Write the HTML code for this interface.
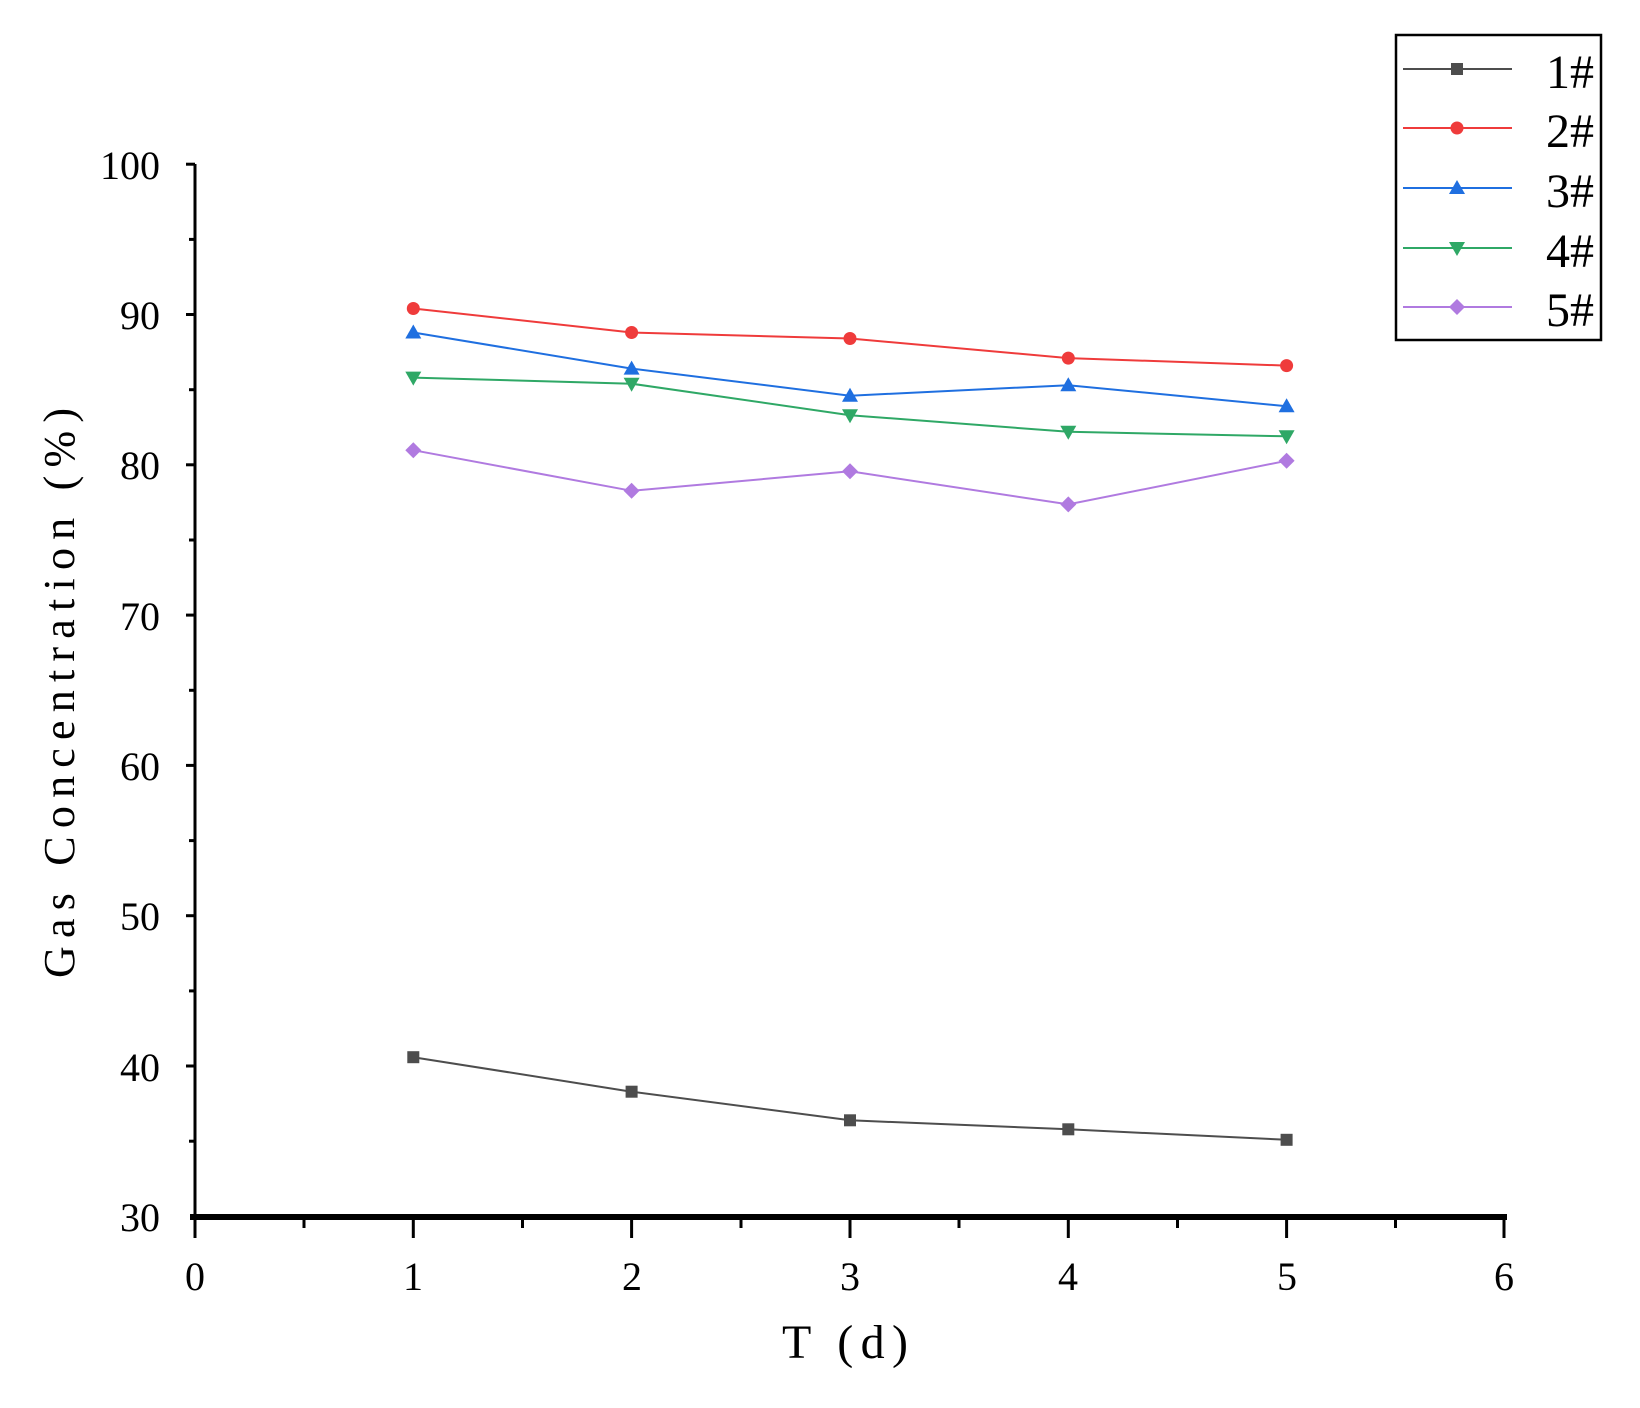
<!DOCTYPE html>
<html><head><style>body{margin:0;background:#fff}</style></head><body>
<svg width="1640" height="1403" xmlns="http://www.w3.org/2000/svg" font-family="Liberation Serif, serif">
<defs>
<g id="sq"><rect x="-6" y="-6" width="12" height="12" fill="#4d4d4d"/></g>
<g id="ci"><circle r="6.5" fill="#ef3b3b"/></g>
<g id="tu"><polygon points="0,-8 8,6 -8,6" fill="#1f6fe0"/></g>
<g id="td"><polygon points="0,8 8,-6 -8,-6" fill="#2fa866"/></g>
<g id="di"><polygon points="0,-8 8,0 0,8 -8,0" fill="#b07ae0"/></g>
</defs>
<line x1="195" y1="164" x2="195" y2="1217" stroke="#000" stroke-width="3"/>
<line x1="190" y1="1217" x2="1507" y2="1217" stroke="#000" stroke-width="6"/>
<g stroke="#000" stroke-width="3">
<line x1="186" y1="164.2" x2="195" y2="164.2"/><line x1="186" y1="314.5" x2="195" y2="314.5"/><line x1="186" y1="464.8" x2="195" y2="464.8"/><line x1="186" y1="615.1" x2="195" y2="615.1"/><line x1="186" y1="765.4" x2="195" y2="765.4"/><line x1="186" y1="915.7" x2="195" y2="915.7"/><line x1="186" y1="1066" x2="195" y2="1066"/>
<line x1="189" y1="239.4" x2="195" y2="239.4"/><line x1="189" y1="389.7" x2="195" y2="389.7"/><line x1="189" y1="540" x2="195" y2="540"/><line x1="189" y1="690.3" x2="195" y2="690.3"/><line x1="189" y1="840.6" x2="195" y2="840.6"/><line x1="189" y1="990.9" x2="195" y2="990.9"/><line x1="189" y1="1141.2" x2="195" y2="1141.2"/>
<line x1="195" y1="1217" x2="195" y2="1238"/><line x1="413.3" y1="1217" x2="413.3" y2="1238"/><line x1="631.6" y1="1217" x2="631.6" y2="1238"/><line x1="850" y1="1217" x2="850" y2="1238"/><line x1="1068.3" y1="1217" x2="1068.3" y2="1238"/><line x1="1286.6" y1="1217" x2="1286.6" y2="1238"/><line x1="1504" y1="1217" x2="1504" y2="1238"/>
<line x1="304" y1="1217" x2="304" y2="1228"/><line x1="522.5" y1="1217" x2="522.5" y2="1228"/><line x1="741" y1="1217" x2="741" y2="1228"/><line x1="959" y1="1217" x2="959" y2="1228"/><line x1="1177.5" y1="1217" x2="1177.5" y2="1228"/><line x1="1395.5" y1="1217" x2="1395.5" y2="1228"/>
</g>
<g font-size="40" text-anchor="end">
<text x="160" y="179">100</text><text x="160" y="329">90</text><text x="160" y="479">80</text><text x="160" y="630">70</text><text x="160" y="780">60</text><text x="160" y="930">50</text><text x="160" y="1081">40</text><text x="160" y="1231">30</text>
</g>
<g font-size="40" text-anchor="middle">
<text x="195" y="1290">0</text><text x="413" y="1290">1</text><text x="632" y="1290">2</text><text x="850" y="1290">3</text><text x="1068" y="1290">4</text><text x="1287" y="1290">5</text><text x="1504" y="1290">6</text>
</g>
<text x="845" y="1358" font-size="48" text-anchor="middle" textLength="126" lengthAdjust="spacing">T (d)</text>
<text transform="translate(74,693) rotate(-90)" font-size="44" text-anchor="middle" textLength="570" lengthAdjust="spacing">Gas Concentration (%)</text>
<g fill="none" stroke-width="2">
<polyline stroke="#4d4d4d" points="413.3,1057.2 631.6,1091.7 850,1120.3 1068.3,1129.3 1286.6,1139.8"/>
<polyline stroke="#ef3b3b" points="413.3,308.5 631.6,332.5 850,338.5 1068.3,358.1 1286.6,365.6"/>
<polyline stroke="#1f6fe0" points="413.3,332.5 631.6,368.6 850,395.7 1068.3,385.2 1286.6,406.2"/>
<polyline stroke="#2fa866" points="413.3,377.6 631.6,383.7 850,415.2 1068.3,431.8 1286.6,436.3"/>
<polyline stroke="#b07ae0" points="413.3,450.2 631.6,490.8 850,471.3 1068.3,504.4 1286.6,460.8"/>
</g>
<use href="#sq" x="413.3" y="1057.2"/><use href="#sq" x="631.6" y="1091.7"/><use href="#sq" x="850" y="1120.3"/><use href="#sq" x="1068.3" y="1129.3"/><use href="#sq" x="1286.6" y="1139.8"/>
<use href="#ci" x="413.3" y="308.5"/><use href="#ci" x="631.6" y="332.5"/><use href="#ci" x="850" y="338.5"/><use href="#ci" x="1068.3" y="358.1"/><use href="#ci" x="1286.6" y="365.6"/>
<use href="#tu" x="413.3" y="332.5"/><use href="#tu" x="631.6" y="368.6"/><use href="#tu" x="850" y="395.7"/><use href="#tu" x="1068.3" y="385.2"/><use href="#tu" x="1286.6" y="406.2"/>
<use href="#td" x="413.3" y="377.6"/><use href="#td" x="631.6" y="383.7"/><use href="#td" x="850" y="415.2"/><use href="#td" x="1068.3" y="431.8"/><use href="#td" x="1286.6" y="436.3"/>
<use href="#di" x="413.3" y="450.2"/><use href="#di" x="631.6" y="490.8"/><use href="#di" x="850" y="471.3"/><use href="#di" x="1068.3" y="504.4"/><use href="#di" x="1286.6" y="460.8"/>
<rect x="1396" y="35" width="205" height="305" fill="none" stroke="#000" stroke-width="2.5"/>
<g stroke-width="2">
<line x1="1403" y1="69" x2="1512" y2="69" stroke="#4d4d4d"/>
<line x1="1403" y1="128" x2="1512" y2="128" stroke="#ef3b3b"/>
<line x1="1403" y1="188" x2="1512" y2="188" stroke="#1f6fe0"/>
<line x1="1403" y1="248" x2="1512" y2="248" stroke="#2fa866"/>
<line x1="1403" y1="307" x2="1512" y2="307" stroke="#b07ae0"/>
</g>
<use href="#sq" x="1457" y="69"/><use href="#ci" x="1457" y="128"/><use href="#tu" x="1457" y="188"/><use href="#td" x="1457" y="248"/><use href="#di" x="1457" y="307"/>
<g font-size="48" text-anchor="end">
<text x="1594" y="88">1#</text><text x="1594" y="147">2#</text><text x="1594" y="207">3#</text><text x="1594" y="267">4#</text><text x="1594" y="326">5#</text>
</g>
</svg>
</body></html>
